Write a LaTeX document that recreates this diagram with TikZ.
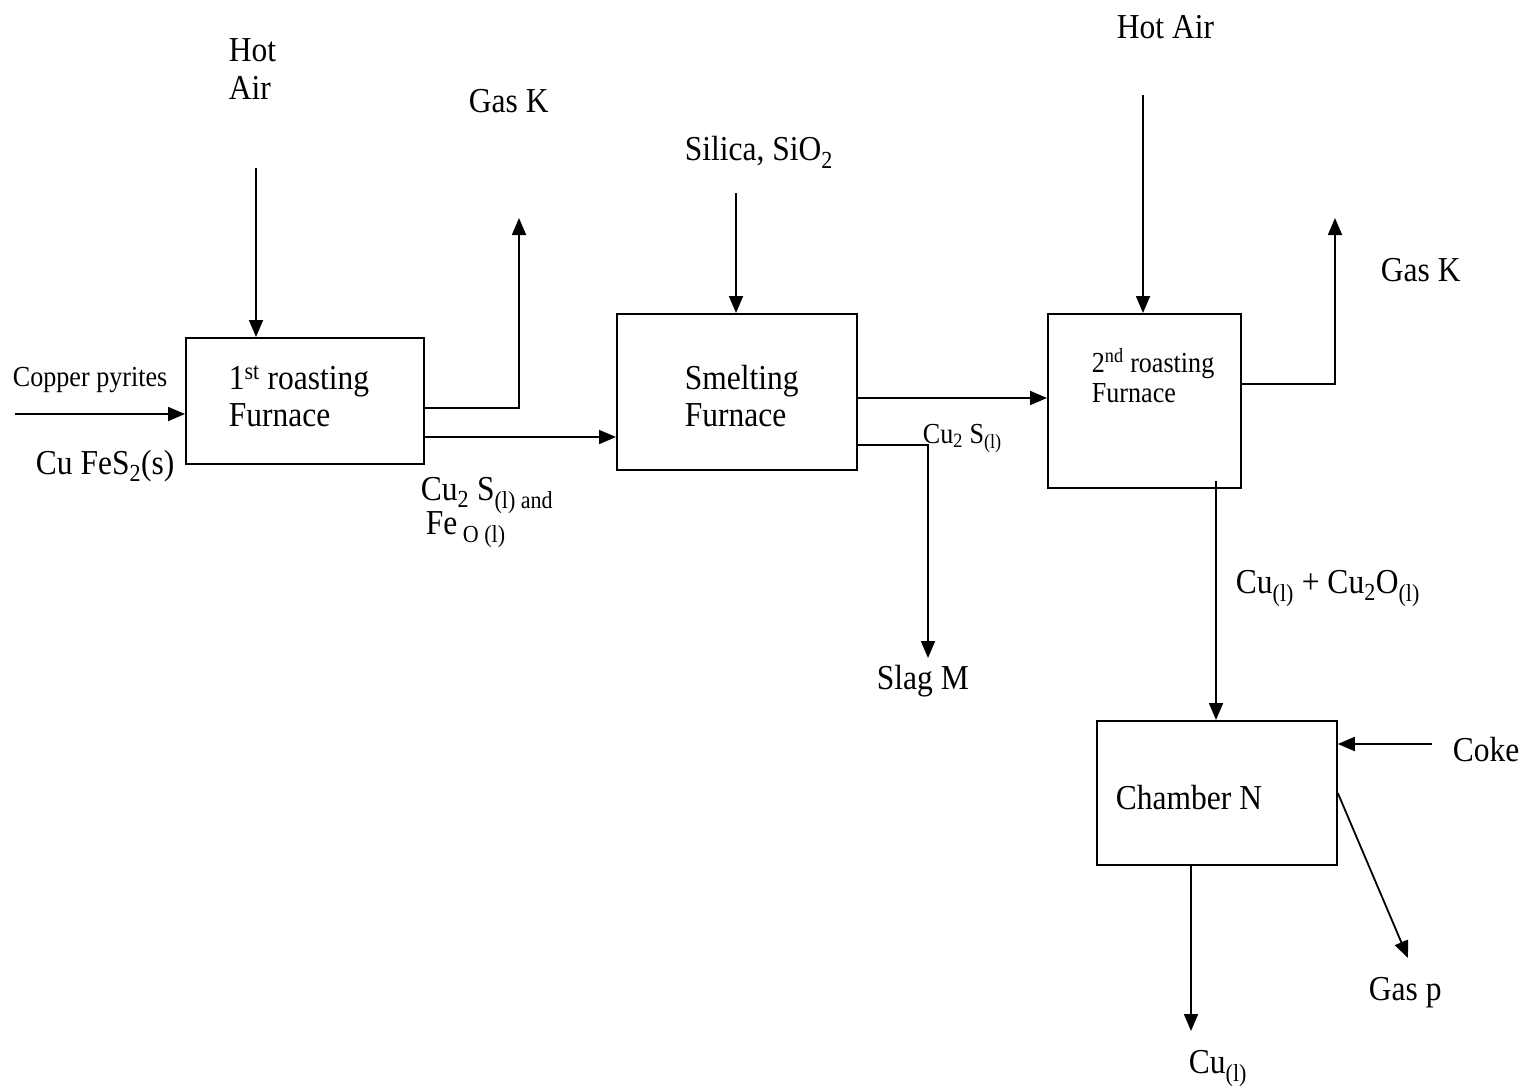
\documentclass[tikz,border=0pt]{standalone}
\usepackage{fontspec}
\setmainfont[FakeStretch=0.9]{Liberation Serif}
\usetikzlibrary{arrows.meta}
\begin{document}
\begin{tikzpicture}[x=1pt,y=-1pt,
  line width=1.8pt,
  arr/.style={-{Triangle[length=17pt,width=14pt]}},
  boxnode/.style={draw,line width=1.8pt,anchor=north west,inner sep=0pt},
  big/.style={anchor=base west,inner sep=0pt,font=\fontsize{35}{41}\selectfont},
  small/.style={anchor=base west,inner sep=0pt,font=\fontsize{29}{34}\selectfont}]
\useasboundingbox (0,0) rectangle (1535,1089);
% boxes
\node[boxnode,minimum width=238pt,minimum height=126pt] (b1) at (185,337) {};
\node[boxnode,minimum width=240pt,minimum height=156pt] (b2) at (616,313) {};
\node[boxnode,minimum width=193pt,minimum height=174pt] (b3) at (1047,313) {};
\node[boxnode,minimum width=240pt,minimum height=144pt] (b4) at (1096,720) {};
% box texts
\node[big] (t1a) at (228,389) {1\textsuperscript{st} roasting};
\node[big] (t1b) at (228,426) {Furnace};
\node[big] (t2a) at (684,389) {Smelting};
\node[big] (t2b) at (684,426) {Furnace};
\node[small] (t3a) at (1091,372) {2\textsuperscript{nd} roasting};
\node[small] (t3b) at (1091,402) {Furnace};
\node[big] (t4) at (1115,809) {Chamber N};
% labels
\node[big] (lha1) at (228,62) {Hot};
\node[big] (lha1b) at (228,100) {Air};
\node[big] (lgk1) at (468,113) {Gas K};
\node[big] (lsil) at (684,161) {Silica, SiO\textsubscript{2}};
\node[big] (lha2) at (1116,39) {Hot Air};
\node[big] (lgk2) at (1380,281) {Gas K};
\node[small] (lcp) at (12,386) {Copper pyrites};
\node[big] (lcu) at (35,474) {Cu FeS\textsubscript{2}(s)};
\node[big] (lcus) at (420,500) {Cu\textsubscript{2} S\textsubscript{(l) and}};
\node[big] (lfeo) at (425,534) {Fe\textsubscript{ O (l)}};
\node[small] (lcus2) at (922,443) {Cu\textsubscript{2} S\textsubscript{(l)}};
\node[big] (lslag) at (876,689) {Slag M};
\node[big] (lcuo) at (1235,593) {Cu\textsubscript{(l)} + Cu\textsubscript{2}O\textsubscript{(l)}};
\node[big] (lcoke) at (1452,761) {Coke};
\node[big] (lgasp) at (1368,1000) {Gas p};
\node[big] (lcul) at (1188,1073) {Cu\textsubscript{(l)}};
% free ends
\coordinate (ha1) at (256,168);
\coordinate (gk1) at (519,218);
\coordinate (cp) at (15,414);
\coordinate (sil) at (736,193);
\coordinate (slag) at (928,658);
\coordinate (ha2) at (1143,95);
\coordinate (gk2) at (1335,218);
\coordinate (b3out) at (1216,481);
\coordinate (coke) at (1432,744);
\coordinate (gasp) at (1408,958);
\coordinate (cuout) at (1191,1031);
% connectors
\draw[arr] (ha1) -- (ha1 |- b1.north);
\draw[arr] (b1.east |- 0,408) -| (gk1);
\draw[arr] (cp) -- (cp -| b1.west);
\draw[arr] (b1.east |- 0,437) -- (b2.west |- 0,437);
\draw[arr] (sil) -- (sil |- b2.north);
\draw[arr] (b2.east |- 0,398) -- (b3.west |- 0,398);
\draw[arr] (b2.east |- 0,445) -| (slag);
\draw[arr] (ha2) -- (ha2 |- b3.north);
\draw[arr] (b3.east |- 0,384) -| (gk2);
\draw[arr] (b3out) -- (b3out |- b4.north);
\draw[arr] (coke) -- (coke -| b4.east);
\draw[arr] (b4.east |- 0,793) -- (gasp);
\draw[arr] (cuout |- b4.south) -- (cuout);
\end{tikzpicture}
\end{document}
